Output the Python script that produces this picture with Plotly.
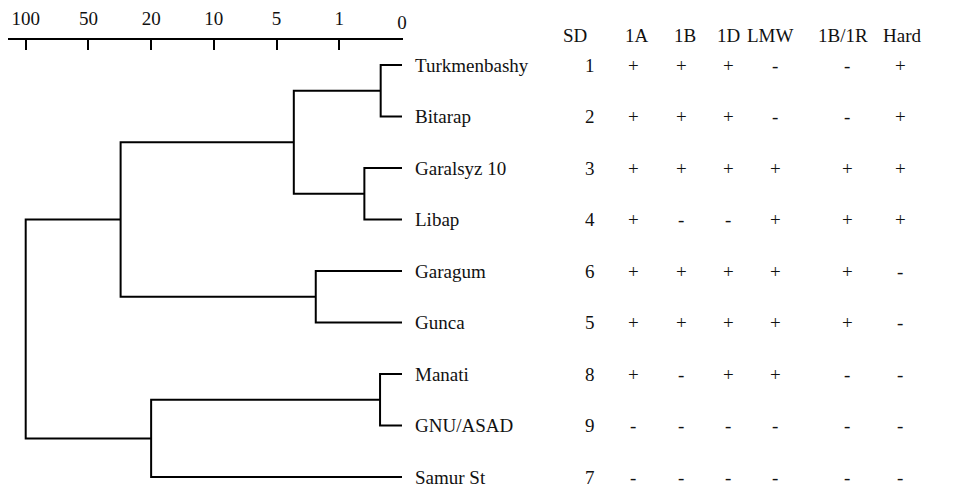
import numpy as np
import plotly.graph_objects as go

# ---------------- data ----------------
cultivars = ["Turkmenbashy", "Bitarap", "Garalsyz 10", "Libap", "Garagum",
             "Gunca", "Manati", "GNU/ASAD", "Samur St"]
sd_codes = [1, 2, 3, 4, 6, 5, 8, 9, 7]

table_columns = ["1A", "1B", "1D", "LMW", "1B/1R", "Hard"]
col_1A = ["+", "+", "+", "+", "+", "+", "+", "-", "-"]
col_1B = ["+", "+", "+", "-", "+", "+", "-", "-", "-"]
col_1D = ["+", "+", "+", "-", "+", "+", "+", "-", "-"]
col_LMW = ["-", "-", "+", "+", "+", "+", "+", "-", "-"]
col_1B1R = ["-", "-", "+", "+", "+", "+", "-", "-", "-"]
col_Hard = ["+", "+", "+", "+", "-", "-", "-", "-", "-"]

# rescaled distance axis (ordinal tick scale)
scale_ticks = [100, 50, 20, 10, 5, 1, 0]

# hierarchical merges (leaf ids 0..8, new cluster ids 9..16)
merge_left = [0, 2, 6, 4, 9, 11, 13, 15]
merge_right = [1, 3, 7, 5, 10, 8, 12, 14]
merge_dist = [0.34, 0.6, 0.35, 2.5, 3.9, 20, 34.6, 100]

# ---------------- layout constants ----------------
FONT = "Liberation Serif, Times New Roman, serif"
TXT = "#111111"
W, H = 964, 490
ML, MT = 8, 40
COL_X_VALUES = [590, 633, 681, 728, 775, 847, 900]   # SD + 6 columns
COL_X_HEAD = [575, 637, 685, 728, 770, 843, 902]
LABEL_X = 413
HEADER_Y_PX = 35

ticks_sorted = sorted(scale_ticks)
ordinal = list(range(len(ticks_sorted)))


def to_axis(d):
    return float(np.interp(d, ticks_sorted, ordinal))


# ---------------- dendrogram geometry ----------------
n = len(cultivars)
node_x = {i: 0.0 for i in range(n)}
node_y = {i: float(i) for i in range(n)}
xs, ys = [], []
for k, (a, b, d) in enumerate(zip(merge_left, merge_right, merge_dist)):
    nid = n + k
    xh = to_axis(d)
    ya, yb = node_y[a], node_y[b]
    xs += [node_x[a], xh, xh, node_x[b], None]
    ys += [ya, ya, yb, yb, None]
    node_x[nid] = xh
    node_y[nid] = (ya + yb) / 2.0

fig = go.Figure()
fig.add_trace(go.Scatter(
    x=xs, y=ys, mode="lines",
    line=dict(color="black", width=2),
    hoverinfo="skip", xaxis="x", yaxis="y", showlegend=False,
))
fig.add_trace(go.Scatter(x=[None], y=[None], xaxis="x2", yaxis="y",
                         showlegend=False, hoverinfo="skip"))
fig.add_trace(go.Scatter(x=[None], y=[None], xaxis="x3", yaxis="y",
                         showlegend=False, hoverinfo="skip"))

# ---------------- table as text ----------------
annotations = []
plot_h = H - MT
header_paper_y = 1 + (MT - HEADER_Y_PX) / plot_h
headers = ["SD"] + table_columns
for hx, h in zip(COL_X_HEAD, headers):
    annotations.append(dict(x=hx, y=header_paper_y, xref="x2", yref="paper", text=h,
                            showarrow=False, xanchor="center", yanchor="middle",
                            font=dict(family=FONT, size=19, color=TXT)))

value_cols = [sd_codes, col_1A, col_1B, col_1D, col_LMW, col_1B1R, col_Hard]
for i, name in enumerate(cultivars):
    annotations.append(dict(x=LABEL_X, y=i, xref="x2", yref="y", text=name,
                            showarrow=False, xanchor="left", yanchor="middle",
                            font=dict(family=FONT, size=19, color=TXT)))
    for cx, col in zip(COL_X_VALUES, value_cols):
        annotations.append(dict(x=cx, y=i, xref="x2", yref="y", text=str(col[i]),
                                showarrow=False, xanchor="center", yanchor="middle",
                                font=dict(family=FONT, size=19, color=TXT)))

row_px = 51.5
y_top = -(65 - MT) / row_px
y_bot = y_top + (H - MT) / row_px

px_per_unit = (402 - 25.7) / 6.0
x_left = 6 + (25.7 - ML) / px_per_unit
x_right = -(403 - 402) / px_per_unit
dom_right = (403 - ML) / (W - ML)

tick_pos = [to_axis(t) for t in scale_ticks]

fig.update_layout(
    width=W, height=H,
    margin=dict(l=ML, r=0, t=MT, b=0, autoexpand=False),
    paper_bgcolor="white", plot_bgcolor="rgba(0,0,0,0)",
    showlegend=False,
    annotations=annotations,
    xaxis=dict(
        domain=[0, dom_right], range=[x_left, x_right], side="top",
        tickvals=[p for p, t in zip(tick_pos, scale_ticks) if t != 0],
        ticktext=[str(t) for t in scale_ticks if t != 0],
        ticks="inside", ticklen=10, tickwidth=2, tickcolor="black",
        showline=True, linecolor="black", linewidth=1.5,
        showgrid=False, zeroline=False, anchor="y", automargin=False,
        tickfont=dict(family=FONT, size=19, color=TXT),
        ticklabelstandoff=6,
    ),
    xaxis3=dict(
        overlaying="x", side="top", range=[x_left, x_right],
        tickvals=[to_axis(0)], ticktext=["0"], ticks="",
        showline=False, showgrid=False, zeroline=False, anchor="y",
        automargin=False,
        tickfont=dict(family=FONT, size=19, color=TXT),
        ticklabelstandoff=6,
    ),
    xaxis2=dict(domain=[0, 1], range=[ML, W], visible=False, anchor="y",
                automargin=False),
    yaxis=dict(range=[y_bot, y_top], visible=False, automargin=False),
)

fig.write_html(
    "out.html",
    config={"displayModeBar": False},
    post_script="document.body.style.margin='0';document.body.style.overflow='hidden';",
)
